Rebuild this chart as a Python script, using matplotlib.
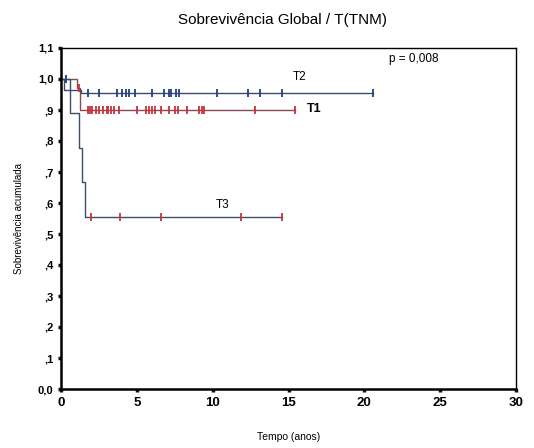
import matplotlib
matplotlib.use("Agg")
import matplotlib.pyplot as plt

# Kaplan-Meier step curves (time in years, cumulative survival)
t1_times = [0.0, 1.05, 1.25, 15.4]
t1_surv = [1.0, 0.970, 0.900, 0.900]
t1_censor_early = [1.18]
t1_censor_early_surv = 0.970
t1_censor = [1.75, 1.9, 2.05, 2.3, 2.5, 2.8, 3.0, 3.1, 3.3, 3.5, 3.8,
             5.0, 5.6, 5.8, 6.0, 6.2, 6.6, 7.1, 7.5, 7.7, 8.3,
             9.1, 9.3, 9.4, 12.8, 15.4]

t2_times = [0.0, 0.2, 1.3, 20.6]
t2_surv = [1.0, 0.965, 0.955, 0.955]
t2_censor_early = [0.35]
t2_censor = [1.8, 2.5, 3.7, 4.0, 4.3, 4.5, 4.9, 6.0, 6.8, 7.1, 7.25,
             7.6, 7.8, 10.3, 12.3, 13.1, 14.6, 20.6]

t3_times = [0.0, 0.6, 1.2, 1.36, 1.55, 14.6]
t3_surv = [1.0, 0.889, 0.778, 0.667, 0.556, 0.556]
t3_censor = [1.97, 3.88, 6.58, 11.9, 14.6]

xticks = [0, 5, 10, 15, 20, 25, 30]
yticks = [0.0, 0.1, 0.2, 0.3, 0.4, 0.5, 0.6, 0.7, 0.8, 0.9, 1.0, 1.1]
ytick_labels = ["0,0", ",1", ",2", ",3", ",4", ",5", ",6", ",7", ",8", ",9", "1,0", "1,1"]

plt.rcParams["font.family"] = ["Liberation Sans", "DejaVu Sans"]

fig = plt.figure(figsize=(5.34, 4.48), dpi=100)
ax = fig.add_axes([61 / 534, 59 / 448, 455 / 534, 341 / 448])

c_t1_line = "#8a4a55"
c_t1_mark = "#c8323c"
c_t2_line = "#3a4a70"
c_t2_mark = "#22407e"
c_t3_line = "#3e4c6c"
c_t3_mark = "#c8323c"

ax.step(t1_times, t1_surv, where="post", color=c_t1_line, lw=1.0)
ax.step(t2_times, t2_surv, where="post", color=c_t2_line, lw=1.0)
ax.step(t3_times, t3_surv, where="post", color=c_t3_line, lw=1.0)

mk = dict(marker="|", linestyle="none", markersize=6, markeredgewidth=1.3)
ax.plot(t1_censor, [t1_surv[-1]] * len(t1_censor), color=c_t1_mark, **mk)
ax.plot(t1_censor_early, [t1_censor_early_surv], color=c_t1_mark, **mk)
ax.plot(t2_censor, [t2_surv[-1]] * len(t2_censor), color=c_t2_mark, **mk)
ax.plot(t2_censor_early, [1.0], color=c_t2_mark, **mk)
ax.plot(t3_censor, [t3_surv[-1]] * len(t3_censor), color=c_t3_mark, **mk)

ax.set_xlim(0, 30)
ax.set_ylim(0, 1.1)
ax.set_xticks(xticks)
ax.set_xticklabels([str(v) for v in xticks], fontsize=9.5, fontweight="bold")
ax.set_yticks(yticks)
ax.set_yticklabels(ytick_labels, fontsize=8, fontweight="bold")
ax.tick_params(direction="out", length=2.5, width=2.5, color="#111111", pad=3)

for side in ["left", "bottom"]:
    ax.spines[side].set_linewidth(1.8)
for side in ["top", "right"]:
    ax.spines[side].set_linewidth(1.0)

ax.text(15.3, 1.005, "T2", fontsize=8.5, ha="left", va="center")
ax.text(16.2, 0.902, "T1", fontsize=9, fontweight="bold", ha="left", va="center")
ax.text(10.2, 0.595, "T3", fontsize=8.5, ha="left", va="center")
ax.text(21.6, 1.066, "p = 0,008", fontsize=8.5, ha="left", va="center")

fig.text(283 / 534, 1 - 20 / 448, "Sobrevivência Global / T(TNM)", fontsize=11,
         ha="center", va="center")
ax.set_xlabel("Tempo (anos)", fontsize=7.5, labelpad=17)
ax.set_ylabel("Sobrevivência acumulada", fontsize=7, labelpad=10)

fig.savefig("out.png", dpi=100, facecolor="white")
